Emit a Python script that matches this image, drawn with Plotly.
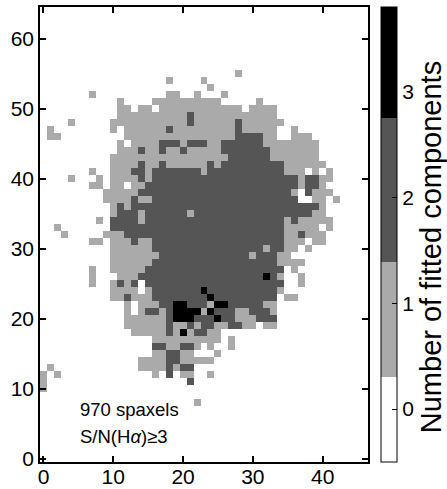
import numpy as np
import plotly.graph_objects as go

# Spaxel map of the number of fitted emission-line components.
# Each string is one row of the map (key = y index); columns run x = 0..46,
# grouped by ten with spaces. '.' = no data, '1'/'2'/'3' = number of components.
N_COLS = 47
N_ROWS = 65

component_rows = {
    55: ".......... .......... ........1.",
    54: ".......... ........1. ...1......",
    53: ".......... .......... ....1.....",
    52: ".......1.. ........11 ..1...1...",
    51: ".......... .1....1111 111111.... .1........",
    50: ".......... .11.11.111 111111111. 1111......",
    49: ".......... .111111111 1211111111 1111......",
    48: "....1..... 1111111111 1211111121 11111.....",
    47: ".1........ 1.11111121 1111111121 1111..1...",
    46: ".11....... ..11111111 1111111122 2211..111.",
    45: ".......... .1.1111222 1222112222 2211111111",
    44: ".......... .111211211 2111112222 2221111111",
    43: ".......... 1111111111 1111111222 2221111111",
    42: ".......... 1111211211 1111212222 2222211111 1......",
    41: ".......1.. 1112212222 2221222222 22222111.1 .1.....",
    40: "....1...1. 1111212222 2222222222 2222222122 11.....",
    39: ".......11. 11.1122222 2222222222 2222222122 1......",
    38: ".........1 1111222222 2222222222 2222221.21 11.....",
    37: ".........1 1112112222 2222222222 2222222..1 1.1....",
    36: ".......... 1212222222 2222222222 2222222222 1......",
    35: ".......... 1222122222 2122222222 2222222221 1......",
    34: "........1. 2222122222 2222222222 2222212111 11.....",
    33: "..1....... 2222222222 2222222222 2222211111 .1.....",
    32: "...1.....1 1122222222 2222222222 2222211211 1......",
    31: ".......11. 1112112222 2222222222 22222111.1 1......",
    30: ".......... 1111112222 2222222222 2212211.1.",
    29: ".......... 1111111222 2222222222 122211....",
    28: ".......... 1111112222 2222222222 22221111..",
    27: ".......1.. 1111122222 2222222222 22222.1...",
    26: ".......1.. .111222222 2222222222 22321..1..",
    25: ".......1.. 1212.22222 2222222222 22222..1..",
    24: ".......... 1111.12222 2223222222 22221.....",
    23: ".......... 1121112222 2222322222 2222.11...",
    22: ".......... ..1.111223 3222133222 2211......",
    21: ".......... ..1.122123 3331322211 2221......",
    20: ".......... ..11111123 3322232211 1222......",
    19: ".......... ..11111121 1212211221 1.11......",
    18: ".......... ...1111121 312211....",
    17: ".......... ......1111 111111.1..",
    16: ".......... ......2211 221.1..1..",
    15: ".......... ......1122 11...1....",
    14: ".......... ....111122 11111.....",
    13: ".1........ ....111121 22........",
    12: "1.1....... ......1.2. 11..1.....",
    11: "1......... .......... .2........",
    10: "1.........",
    8: ".......... .......... ..1.......",
}

count_levels = [0, 1, 2, 3]
level_colors = ["#ffffff", "#aaaaaa", "#555555", "#000000"]
# colour-bar range and the upper edge of each colour band (same units as the counts)
cbar_min, cbar_max = -0.5, 3.8
band_tops = [0.30, 1.39, 2.75, 3.8]
x_ticks = [0, 10, 20, 30, 40]
y_ticks = [0, 10, 20, 30, 40, 50, 60]
cbar_title = "Number of fitted components"
note_lines = ["970 spaxels", "S/N(H<i>\u03b1</i>)\u22653"]

z = np.full((N_ROWS, N_COLS), np.nan)
for yi, row in component_rows.items():
    cells = row.replace(" ", "")
    for xi, ch in enumerate(cells):
        if ch in "0123":
            z[yi, xi] = int(ch)

span = cbar_max - cbar_min
colorscale = []
lower = cbar_min
for col, top in zip(level_colors, band_tops):
    colorscale.append([(lower - cbar_min) / span, col])
    colorscale.append([(top - cbar_min) / span, col])
    lower = top

font_family = "Liberation Sans, Arial, Helvetica, sans-serif"

fig = go.Figure(
    go.Heatmap(
        z=z,
        x=np.arange(N_COLS),
        y=np.arange(N_ROWS),
        zmin=cbar_min,
        zmax=cbar_max,
        colorscale=colorscale,
        hoverongaps=False,
        colorbar=dict(
            thickness=16,
            len=1.0,
            lenmode="fraction",
            y=0.5,
            yanchor="middle",
            ypad=0,
            x=1.04,
            xanchor="left",
            xpad=0,
            outlinecolor="black",
            outlinewidth=1,
            tickvals=count_levels,
            ticktext=[str(v) for v in count_levels],
            ticks="inside",
            ticklen=5,
            tickcolor="black",
            tickfont=dict(size=21, color="black", family=font_family),
        ),
    )
)

axis_common = dict(
    showgrid=False,
    zeroline=False,
    automargin=False,
    ticks="inside",
    ticklen=6,
    tickwidth=1.5,
    tickcolor="black",
    showline=True,
    linecolor="black",
    linewidth=1.5,
    mirror="ticks",
    tickfont=dict(size=21, color="black", family=font_family),
)

fig.update_xaxes(range=[-0.5, 46.5], tickvals=x_ticks, ticklabelstandoff=-5, **axis_common)
fig.update_yaxes(range=[-0.5, 64.5], tickvals=y_ticks, **axis_common)

# colour-bar label, written vertically to the right of the bar
fig.add_annotation(
    x=1.192, y=0.472, xref="paper", yref="paper",
    text=cbar_title, textangle=-90, showarrow=False,
    xanchor="center", yanchor="middle",
    font=dict(size=29, color="black", family=font_family),
)

for i, line in enumerate(note_lines):
    fig.add_annotation(
        x=5.0, y=7.0 - 3.85 * i, xref="x", yref="y",
        text=line, showarrow=False, xanchor="left", yanchor="middle",
        font=dict(size=18.5, color="black", family=font_family),
    )

fig.update_layout(
    template="none",
    width=447,
    height=489,
    margin=dict(l=40, r=79, t=7, b=27, autoexpand=False),
    paper_bgcolor="white",
    plot_bgcolor="white",
    showlegend=False,
)

fig.write_html("out.html")
